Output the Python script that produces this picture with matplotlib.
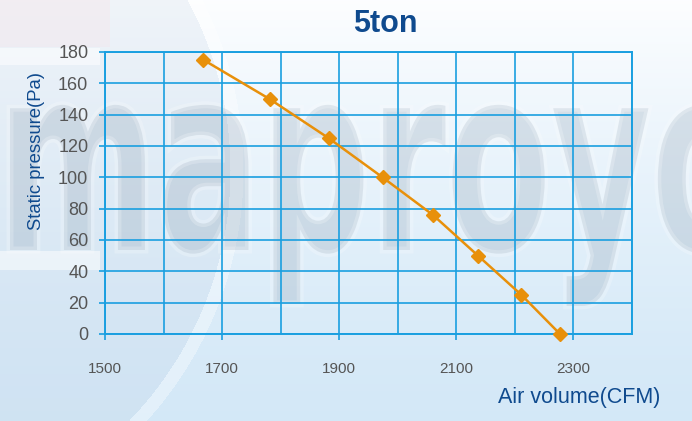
import numpy as np
import matplotlib
matplotlib.use('Agg')
import matplotlib.pyplot as plt
from matplotlib.textpath import TextPath
from matplotlib.patches import PathPatch
from matplotlib.font_manager import FontProperties
from matplotlib.transforms import Affine2D

# 5 ton fan curve
air_volume = [1668, 1781, 1882, 1974, 2060, 2137, 2211, 2277]
static_pressure = [175, 150, 125, 100, 76, 50, 25, 0]

x_ticks = [1500, 1700, 1900, 2100, 2300]
x_grid = list(range(1500, 2401, 100))
y_ticks = list(range(0, 181, 20))

title = '5ton'
x_label = 'Air volume(CFM)'
y_label = 'Static pressure(Pa)'
brand = 'maproyo'

W, H = 692, 421
grid_c = '#1a9fe0'
line_c = '#e8900a'
navy = '#0f4a8e'

plt.rcParams['font.family'] = ['Liberation Sans', 'DejaVu Sans']

fig = plt.figure(figsize=(W / 100, H / 100), dpi=100)

# ---- background: soft blue gradient with the round logo shape on the left
yy, xx = np.mgrid[0:H, 0:W]
t = (yy / H)[..., None]
top = np.array([0.99, 0.995, 1.0])
bot = np.array([0.83, 0.91, 0.97])
img = top * (1 - t) ** 1.3 + bot * (1 - (1 - t) ** 1.3)
d = np.hypot(xx + 130, yy - 170)
inside = (d < 360)[..., None]
img = np.where(inside, img * 0.78 + np.array([0.76, 0.82, 0.89]) * 0.22, img)
ring = ((d > 360) & (d < 373))[..., None]
img = np.where(ring, img * 0.65 + 0.35, img)
pink = ((xx < 110) & (yy < 47))[..., None]
img = np.where(pink, img * 0.75 + np.array([0.98, 0.86, 0.88]) * 0.25, img)
band = ((xx < 100) & (((yy > 47) & (yy < 65)) | ((yy > 250) & (yy < 270))))[..., None]
img = np.where(band, img * 0.5 + 0.5, img)
img = np.clip(img, 0, 1)

bg = fig.add_axes([0, 0, 1, 1], zorder=-5)
bg.imshow(img, extent=[0, W, H, 0], aspect='auto', interpolation='bilinear')
bg.set_xlim(0, W)
bg.set_ylim(H, 0)
bg.axis('off')

# brand watermark, stretched into a tall condensed word
fp = FontProperties(family='DejaVu Sans', weight='bold')
tp = TextPath((0, 0), brand, size=100, prop=fp)
ext = tp.get_extents()
x0, x1, top_y, base_y = 10, 750, 110, 250
sx = (x1 - x0) / ext.width
sy = (base_y - top_y) / 54.0
tr = Affine2D().translate(-ext.x0, 0).scale(sx, -sy).translate(x0, base_y)
wm = tr.transform_path(tp)
bg.add_patch(PathPatch(wm, facecolor='#7a8ea2', edgecolor='white',
                       linewidth=5, alpha=0.22, zorder=2))

# ---- main chart
ax = fig.add_axes([105 / W, 1 - 334 / H, (632 - 105) / W, (334 - 52) / H])
ax.set_facecolor('none')

ax.plot(air_volume, static_pressure, color=line_c, linewidth=1.8,
        marker='D', markersize=7.5, markerfacecolor=line_c,
        markeredgecolor=line_c, zorder=5, clip_on=False)

ax.set_xlim(1500, 2400)
ax.set_ylim(0, 180)
ax.set_xticks(x_ticks)
ax.set_xticks(x_grid, minor=True)
ax.set_yticks(y_ticks)
ax.grid(True, which='both', axis='x', color=grid_c, linewidth=1.2)
ax.grid(True, which='major', axis='y', color=grid_c, linewidth=1.2)
for s in ax.spines.values():
    s.set_color(grid_c)
    s.set_linewidth(1.4)

ax.tick_params(axis='x', which='major', length=4, width=1.2, color=grid_c,
               pad=16, labelsize=11, labelcolor='#555555')
ax.tick_params(axis='x', which='minor', length=0)
ax.tick_params(axis='y', length=4, width=1.2, color=grid_c, pad=8,
               labelsize=13, labelcolor='#555555')

fig.text(385 / W, 1 - 24 / H, title, ha='center', va='center',
         fontsize=22, fontweight='bold', color=navy)
fig.text(579 / W, 1 - 397 / H, x_label, ha='center', va='center',
         fontsize=15.5, color=navy)
fig.text(37 / W, 1 - 151 / H, y_label, ha='center', va='center',
         rotation=90, fontsize=13.3, color=navy)

fig.savefig('out.png', dpi=100)
